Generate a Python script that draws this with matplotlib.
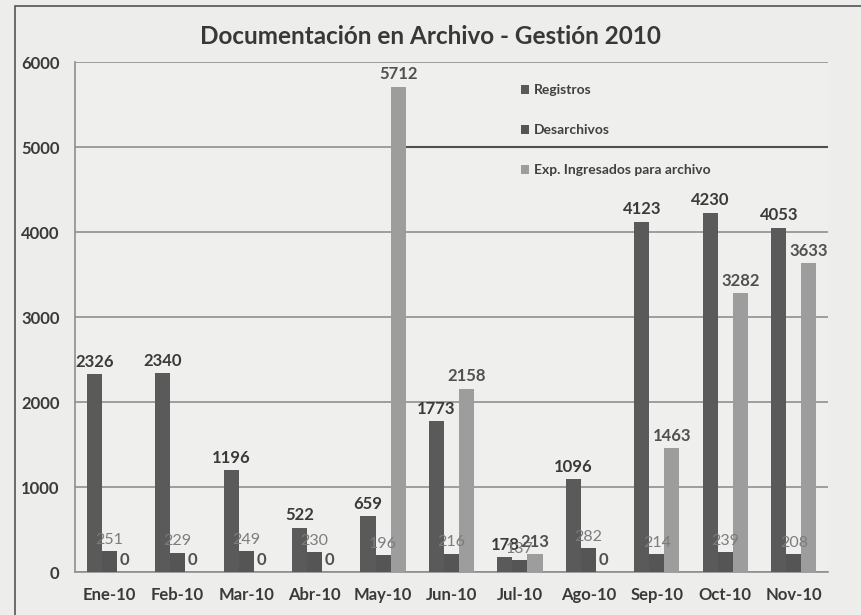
import matplotlib
matplotlib.use("Agg")
import matplotlib.pyplot as plt
import numpy as np
from matplotlib.patches import Rectangle

plt.rcParams['font.family'] = ['Lato', 'DejaVu Sans']

categories = ["Ene-10", "Feb-10", "Mar-10", "Abr-10", "May-10", "Jun-10",
              "Jul-10", "Ago-10", "Sep-10", "Oct-10", "Nov-10"]
registros = [2326, 2340, 1196, 522, 659, 1773, 178, 1096, 4123, 4230, 4053]
desarchivos = [251, 229, 249, 230, 196, 216, 137, 282, 214, 239, 208]
expedientes = [0, 0, 0, 0, 5712, 2158, 213, 0, 1463, 3282, 3633]
series_names = ["Registros", "Desarchivos", "Exp. Ingresados para archivo"]
yticks = [0, 1000, 2000, 3000, 4000, 5000, 6000]
title = "Documentación en Archivo - Gestión 2010"

fig = plt.figure(figsize=(8.61, 6.15), dpi=100)
fig.patch.set_facecolor('#ededeb')
ax = fig.add_axes([0.0871, 0.0699, 0.8746, 0.8291])
ax.set_facecolor('#efefed')

x = np.arange(len(categories))
w = 0.22
colors = ['#5a5a5a', '#555555', '#9d9d9d']
lab_colors = ['#3a3a3a', '#7c7c7c', '#505050']
lab_weights = ['bold', 'normal', 'bold']
lab_sizes = [12, 11.5, 12]
data = [registros, desarchivos, expedientes]
for i, (vals, name) in enumerate(zip(data, series_names)):
    bars = ax.bar(x + (i - 1) * w, vals, w, color=colors[i], label=name, zorder=3)
    ax.bar_label(bars, labels=[str(v) for v in vals], padding=3,
                 fontsize=lab_sizes[i], color=lab_colors[i],
                 fontweight=lab_weights[i], zorder=4)

ax.set_xlim(-0.5, len(categories) - 0.5)
ax.set_ylim(0, 6000)
ax.set_yticks(yticks)
ax.set_yticklabels([str(t) for t in yticks], fontsize=12, fontweight='bold', color='#3a3a3a')
ax.set_xticks(x)
ax.set_xticklabels(categories, fontsize=12, fontweight='bold', color='#3a3a3a')
ax.tick_params(axis='both', length=0)
ax.tick_params(axis='y', pad=11)
ax.tick_params(axis='x', pad=11)
ax.grid(axis='y', color='#8f8f8f', lw=1.2, zorder=1)
ax.axhline(5000, xmin=(403 - 75) / 753, xmax=1, color='#505050', lw=1.5, zorder=2)
for s in ['top', 'right']:
    ax.spines[s].set_visible(False)
for s in ['left', 'bottom']:
    ax.spines[s].set_color('#8f8f8f')
    ax.spines[s].set_linewidth(1.2)

fig.text(0.5, 0.94, title, ha='center', va='center', fontsize=17.5,
         fontweight='bold', color='#383838')

leg = ax.legend(loc='upper left', bbox_to_anchor=(0.585, 0.967), frameon=False,
                fontsize=10, handlelength=0.6, handleheight=0.6, handletextpad=0.3,
                labelspacing=2.0, borderaxespad=0)
for t in leg.get_texts():
    t.set_color('#404040')
    t.set_fontweight('bold')

# outer frame of the chart
fig.patches.append(Rectangle((15 / 861, -0.1), 1.2, 1.1 - 6 / 615, transform=fig.transFigure,
                             fill=False, edgecolor='#555555', lw=1.2))

fig.savefig('out.png', dpi=100, facecolor=fig.get_facecolor())
